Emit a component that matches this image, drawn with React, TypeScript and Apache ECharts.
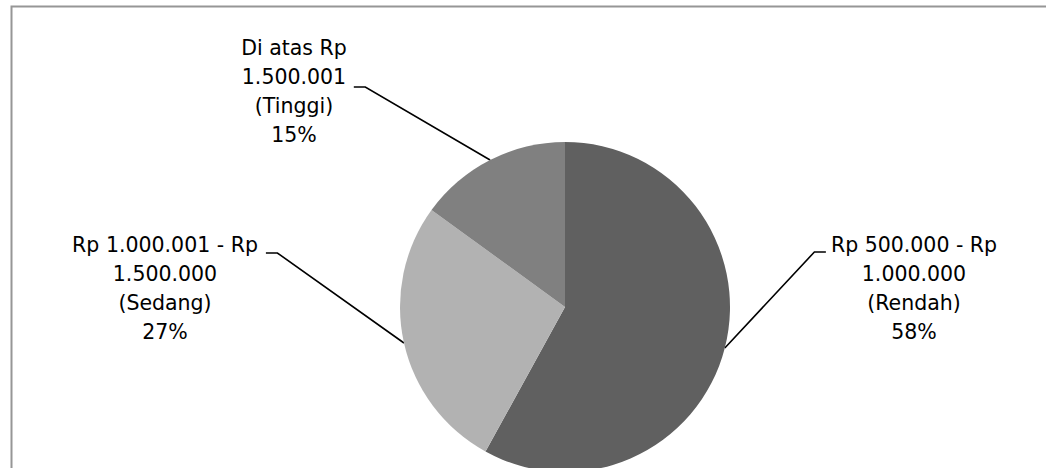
import { useEffect, useRef } from "react";
import * as echarts from "echarts";

// ---- data ----
const categories = [
  "Rp 500.000 - Rp\n1.000.000\n(Rendah)",
  "Rp 1.000.001 - Rp\n1.500.000\n(Sedang)",
  "Di atas Rp\n1.500.001\n(Tinggi)",
];
const values = [58, 27, 15];

// ---- styles / layout ----
const sliceColors = ["#606060", "#b2b2b2", "#808080"];
const labelX = [914, 165, 294];
const labelTop = [157.5, 159.5, 24.5];
const labelPadding = [
  [73, 5, 0, 5],
  [71, 8, 0, 8],
  [9, 7, 0, 7],
];

export default function App() {
  const ref = useRef<HTMLDivElement>(null);
  useEffect(() => {
    document.body.style.margin = "0";
    const chart = echarts.init(ref.current!, undefined, { renderer: "svg" });
    const option: any = {
      animation: false,
      backgroundColor: "#ffffff",
      graphic: [
        {
          type: "rect",
          silent: true,
          shape: { x: 11.5, y: 6.5, width: 1100, height: 600 },
          style: { fill: "none", stroke: "#969696", lineWidth: 2 },
        },
      ],
      series: [
        {
          type: "pie",
          center: [565, 307],
          radius: 165,
          startAngle: 90,
          clockwise: true,
          avoidLabelOverlap: false,
          emphasis: { disabled: true },
          data: categories.map((name, i) => ({
            name,
            value: values[i],
            itemStyle: { color: sliceColors[i] },
            label: { padding: labelPadding[i] },
          })),
          label: {
            show: true,
            position: "outside",
            formatter: "{b}\n{d}%",
            fontFamily: "DejaVu Sans",
            fontSize: 20.5,
            lineHeight: 29,
            color: "#000000",
            align: "center",
            backgroundColor: "rgba(255,255,255,0)",
          },
          labelLine: {
            show: true,
            length: 10,
            length2: 11.5,
            minTurnAngle: 90,
            lineStyle: { color: "#000000", width: 1.6 },
          },
          labelLayout: (p: any) => ({
            x: labelX[p.dataIndex],
            y: labelTop[p.dataIndex],
            align: "center",
            verticalAlign: "top",
          }),
        },
      ],
    };
    chart.setOption(option);
    return () => chart.dispose();
  }, []);
  return <div ref={ref} style={{ width: 1046, height: 468 }} />;
}
